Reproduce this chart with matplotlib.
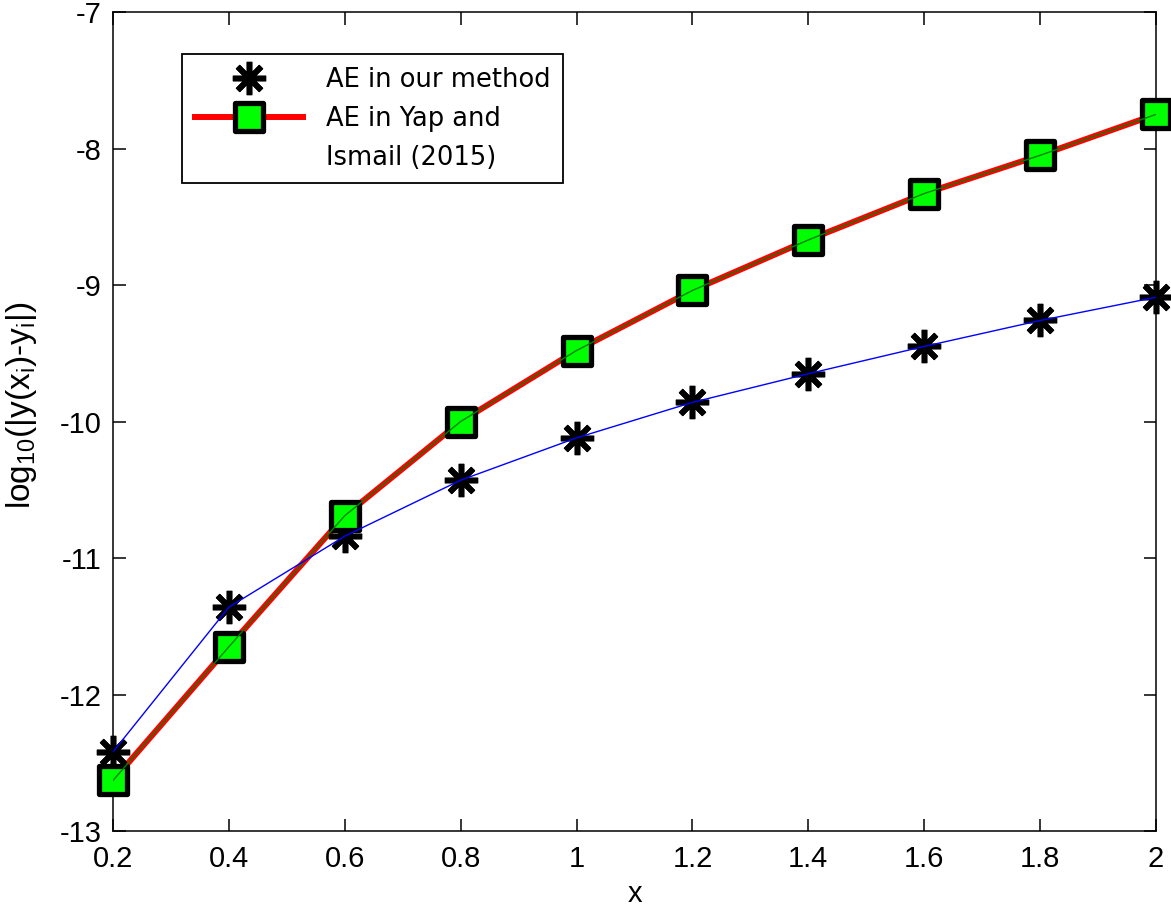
import matplotlib
matplotlib.use('Agg')
import matplotlib.pyplot as plt
from matplotlib.lines import Line2D
from matplotlib.markers import MarkerStyle

plt.rcParams['font.family'] = ['Liberation Sans', 'DejaVu Sans']
plt.rcParams['mathtext.fontset'] = 'custom'
plt.rcParams['mathtext.rm'] = 'Liberation Sans'
plt.rcParams['mathtext.it'] = 'Liberation Sans'
plt.rcParams['axes.unicode_minus'] = False

x = [0.2, 0.4, 0.6, 0.8, 1.0, 1.2, 1.4, 1.6, 1.8, 2.0]
ae_ours = [-12.42, -11.36, -10.84, -10.43, -10.12, -9.86, -9.65, -9.45, -9.26, -9.09]
ae_yap = [-12.63, -11.65, -10.69, -10.00, -9.48, -9.04, -8.67, -8.33, -8.05, -7.75]
xticks = [0.2, 0.4, 0.6, 0.8, 1.0, 1.2, 1.4, 1.6, 1.8, 2.0]
xtick_labels = ['0.2', '0.4', '0.6', '0.8', '1', '1.2', '1.4', '1.6', '1.8', '2']
yticks = [-13, -12, -11, -10, -9, -8, -7]

sq = MarkerStyle('s', joinstyle='round')
star = MarkerStyle((8, 2, 0), capstyle='round')

fig = plt.figure(figsize=(11.71, 9.1), dpi=100)
ax = fig.add_axes([113 / 1171, 79 / 910, 1043 / 1171, 819 / 910])

# thick red line under everything
ax.plot(x, ae_yap, color='red', lw=4.3, zorder=2)
# markers
ax.plot(x, ae_ours, ls='none', marker=star, ms=24, mew=4.0,
        color='black', zorder=3, clip_on=False)
ax.plot(x, ae_yap, ls='none', marker=sq, ms=20, mew=3.8,
        mfc='#00ff00', mec='black', zorder=4, clip_on=False)
# thin lines on top
ax.plot(x, ae_yap, color='#008000', lw=1.0, zorder=5)
ax.plot(x, ae_ours, color='blue', lw=1.0, zorder=5)

ax.set_xlim(0.2, 2.0)
ax.set_ylim(-13, -7)
ax.set_xticks(xticks)
ax.set_xticklabels(xtick_labels)
ax.set_yticks(yticks)
ax.tick_params(direction='in', length=9, width=1.1, labelsize=21, pad=8,
               top=True, right=True)
ax.tick_params(axis='x', pad=10)
for s in ax.spines.values():
    s.set_linewidth(1.1)

ax.set_xlabel('x', fontsize=21, labelpad=5)
ax.set_ylabel(r'log$_{\mathrm{10}}$(|y(x$_{\mathrm{i}}$)-y$_{\mathrm{i}}$|)',
              fontsize=24)
ax.yaxis.set_label_coords(-0.071, 0.52)

handles = [
    Line2D([], [], ls='none', marker=star, ms=24, mew=4.0, color='black'),
    Line2D([], [], color='red', lw=4.3, marker=sq, ms=20, mew=3.8,
           mfc='#00ff00', mec='black'),
    Line2D([], [], ls='none'),
]
labels = ['AE in our method', 'AE in Yap and', 'Ismail (2015)']
leg = ax.legend(handles, labels, loc='upper left',
                bbox_to_anchor=(182 / 1171, 1 - 54 / 910),
                bbox_transform=fig.transFigure,
                prop={'family': 'DejaVu Sans', 'size': 18.5},
                frameon=True, fancybox=False, framealpha=1,
                edgecolor='black', borderpad=0.5, labelspacing=0.5,
                handlelength=4.2, handletextpad=0.9, borderaxespad=0)
leg.get_frame().set_linewidth(1.3)

fig.savefig('out.png', dpi=100)
